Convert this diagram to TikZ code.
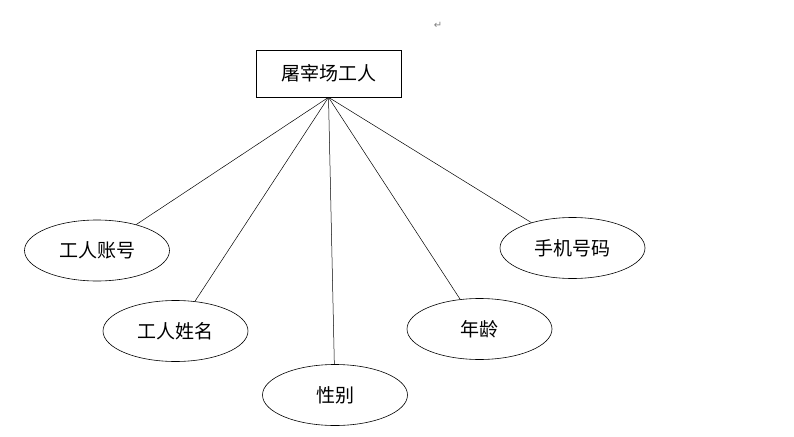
\documentclass[tikz,border=0pt]{standalone}
\usepackage{fontspec}
\newfontfamily\cjk{Noto Sans CJK SC}
\newfontfamily\symb{DejaVu Sans}
\usetikzlibrary{shapes.geometric}

\begin{document}
\begin{tikzpicture}[
  x=1pt,y=-1pt,
  every node/.style={font=\cjk\fontsize{19}{21}\selectfont},
  ent/.style={rectangle,draw,line width=0.6pt,minimum width=145pt,minimum height=47pt,inner sep=0pt},
  attr/.style={ellipse,draw,line width=0.6pt,minimum width=145pt,minimum height=61pt,inner sep=0pt},
  link/.style={line width=0.5pt}
]
\useasboundingbox (0,0) rectangle (794,436);
\node[font=\symb\fontsize{10}{11}\selectfont,text=gray] (mark) at (438,25) {↵};
\node[ent] (worker) at (328.5,73.5) {屠宰场工人};
\node[attr] (acct) at (97,250.5) {工人账号};
\node[attr] (name) at (175.5,331) {工人姓名};
\node[attr] (sex) at (335,395) {性别};
\node[attr] (age) at (479.5,329) {年龄};
\node[attr] (phone) at (572.5,248) {手机号码};
\draw[link] (worker.south) -- (acct);
\draw[link] (worker.south) -- (name);
\draw[link] (worker.south) -- (sex);
\draw[link] (worker.south) -- (age);
\draw[link] (worker.south) -- (phone);
\end{tikzpicture}
\end{document}
